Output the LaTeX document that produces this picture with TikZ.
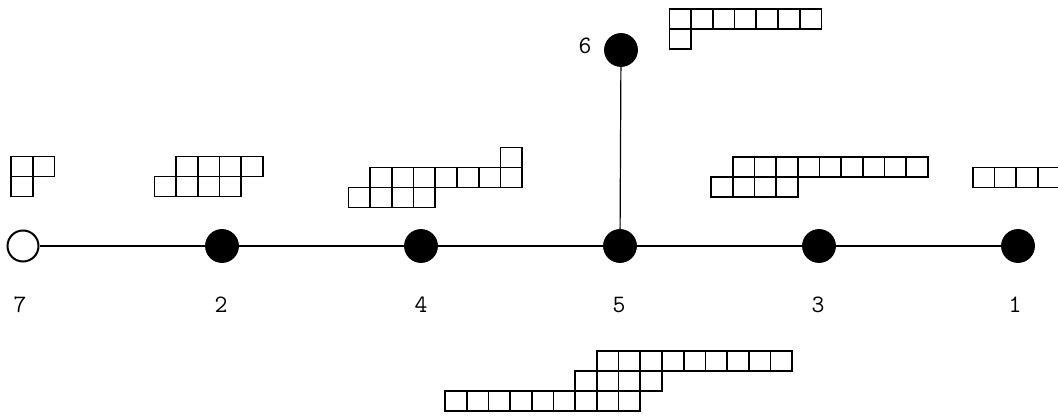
\documentclass[tikz,border=0pt]{standalone}
\begin{document}
\begin{tikzpicture}[x=1pt,y=-1pt,
  vert/.style={circle,fill=black,draw=black,line width=0.8pt,minimum size=33pt,inner sep=0pt},
  openvert/.style={circle,fill=white,draw=black,line width=2pt,minimum size=31pt,inner sep=0pt},
  edge/.style={line width=2.8pt},
  stem/.style={line width=1.2pt},
  cell/.style={line width=1.7pt},
  lab/.style={font=\ttfamily\fontsize{25}{25}\selectfont,inner sep=0pt,anchor=base}]
\useasboundingbox (0,0) rectangle (1058,417);
\clip (0,0) rectangle (1058,417);
\newcommand\yngrow[4]{\foreach \c in {#3,...,#4}{\draw[cell] ({#1+\c*21.7},#2) rectangle ++(21.7,20);}}
% vertices
\node[openvert] (v7) at (23,246) {};
\node[vert] (v2) at (222,246) {};
\node[vert] (v4) at (421,246) {};
\node[vert] (v5) at (620,246) {};
\node[vert] (v3) at (819,246) {};
\node[vert] (v1) at (1018,246) {};
\node[vert] (v6) at (621,50) {};
% edges
\draw[edge] (v7) -- (v2);
\draw[edge] (v2) -- (v4);
\draw[edge] (v4) -- (v5);
\draw[edge] (v5) -- (v3);
\draw[edge] (v3) -- (v1);
\draw[stem] (v6) -- (v5);
% labels
\node[lab] (l7) at (20,312) {7};
\node[lab] (l2) at (221,312) {2};
\node[lab] (l4) at (421,312) {4};
\node[lab] (l5) at (619,312) {5};
\node[lab] (l3) at (818,312) {3};
\node[lab] (l1) at (1015,312) {1};
\node[lab] (l6) at (585,54) {6};
% Young diagrams
% at 7
\yngrow{11}{156.5}{0}{1}
\yngrow{11}{176.5}{0}{0}
% at 2
\yngrow{154.5}{156.5}{1}{4}
\yngrow{154.5}{176.5}{0}{3}
% at 4
\yngrow{348.5}{147.5}{7}{7}
\yngrow{348.5}{167.5}{1}{7}
\yngrow{348.5}{187.5}{0}{3}
% at 6
\yngrow{669.5}{9}{0}{6}
\yngrow{669.5}{29}{0}{0}
% at 3
\yngrow{711}{157}{1}{9}
\yngrow{711}{177}{0}{3}
% at 1
\yngrow{972.7}{167.5}{0}{3}
% below 5
\yngrow{445}{351}{7}{15}
\yngrow{445}{371}{6}{9}
\yngrow{445}{391}{0}{8}
\end{tikzpicture}
\end{document}
